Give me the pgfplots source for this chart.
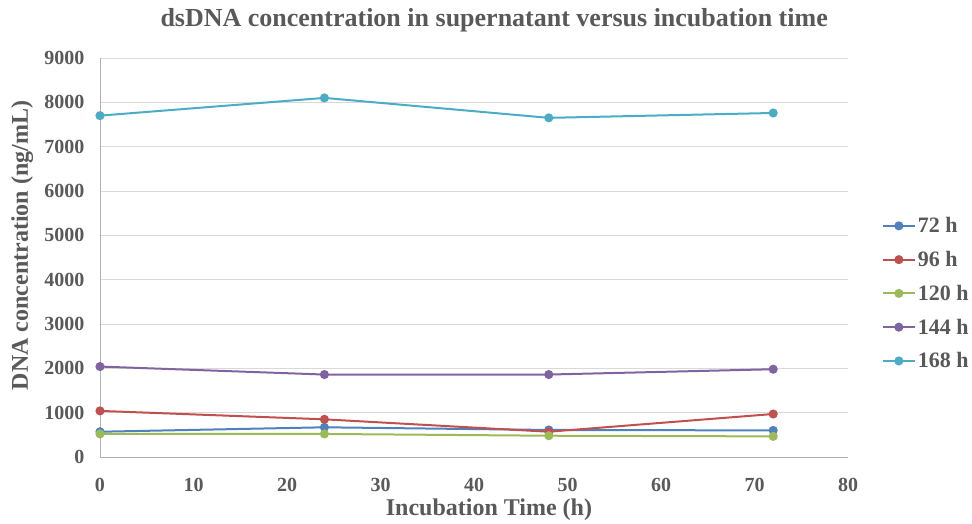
\documentclass[border=0pt]{standalone}
\usepackage{pgfplots}
\pgfplotsset{compat=1.18}
\usepackage{fontspec}
\setmainfont{Liberation Serif}
\definecolor{cA}{HTML}{4F81BD}
\definecolor{cB}{HTML}{C0504D}
\definecolor{cC}{HTML}{9BBB59}
\definecolor{cD}{HTML}{8064A2}
\definecolor{cE}{HTML}{4BACC6}
\definecolor{txt}{HTML}{595959}
\begin{document}
\begin{tikzpicture}
\useasboundingbox (-100pt,-66pt) rectangle (872pt,457pt);
\begin{axis}[
  at={(0pt,0pt)}, anchor=south west,
  scale only axis, width=748pt, height=399pt,
  xmin=0, xmax=80, ymin=0, ymax=9000,
  xtick={0,10,...,80}, ytick={0,1000,...,9000},
  ymajorgrids, grid style={draw=black!15, line width=0.8pt},
  axis x line*=bottom, axis y line*=left,
  axis line style={draw=black!30, line width=0.8pt},
  major tick length=0pt,
  /pgf/number format/assume math mode=true,
  /pgf/number format/set thousands separator={},
  ticklabel style={font=\fontsize{20}{20}\selectfont\bfseries, text=txt},
  xticklabel style={yshift=-18pt},
  yticklabel style={xshift=-12pt},
  title={dsDNA concentration in supernatant versus incubation time},
  title style={font=\fontsize{26}{26}\selectfont\bfseries, text=txt,
    at={(axis description cs:0.527,1.08)}, anchor=center},
  xlabel={Incubation Time (h)},
  ylabel={DNA concentration (ng/mL)},
  label style={font=\fontsize{24}{24}\selectfont\bfseries, text=txt},
  xlabel style={at={(axis description cs:0.52,-0.132)}, anchor=center},
  ylabel style={at={(axis description cs:-0.104,0.53)}, anchor=center},
  legend style={at={(1.045,0.41)}, anchor=west, draw=none, fill=none,
    font=\fontsize{22}{22}\selectfont\bfseries, text=txt, row sep=13pt,
    inner sep=0pt},
  legend cell align=left,
  legend image code/.code={\draw[#1] (0pt,0pt) -- (32pt,0pt); \draw[#1, mark repeat=1] plot coordinates {(16pt,0pt)};},
  every axis plot/.append style={line width=2pt, mark=*, mark size=3.5pt},
]
\addplot[color=cA] coordinates {(0,570) (24,670) (48,610) (72,600)};
\addlegendentry{72 h}
\addplot[color=cB] coordinates {(0,1040) (24,850) (48,570) (72,970)};
\addlegendentry{96 h}
\addplot[color=cC] coordinates {(0,520) (24,520) (48,480) (72,465)};
\addlegendentry{120 h}
\addplot[color=cD] coordinates {(0,2040) (24,1860) (48,1860) (72,1980)};
\addlegendentry{144 h}
\addplot[color=cE] coordinates {(0,7700) (24,8100) (48,7650) (72,7760)};
\addlegendentry{168 h}
\end{axis}
\end{tikzpicture}
\end{document}
